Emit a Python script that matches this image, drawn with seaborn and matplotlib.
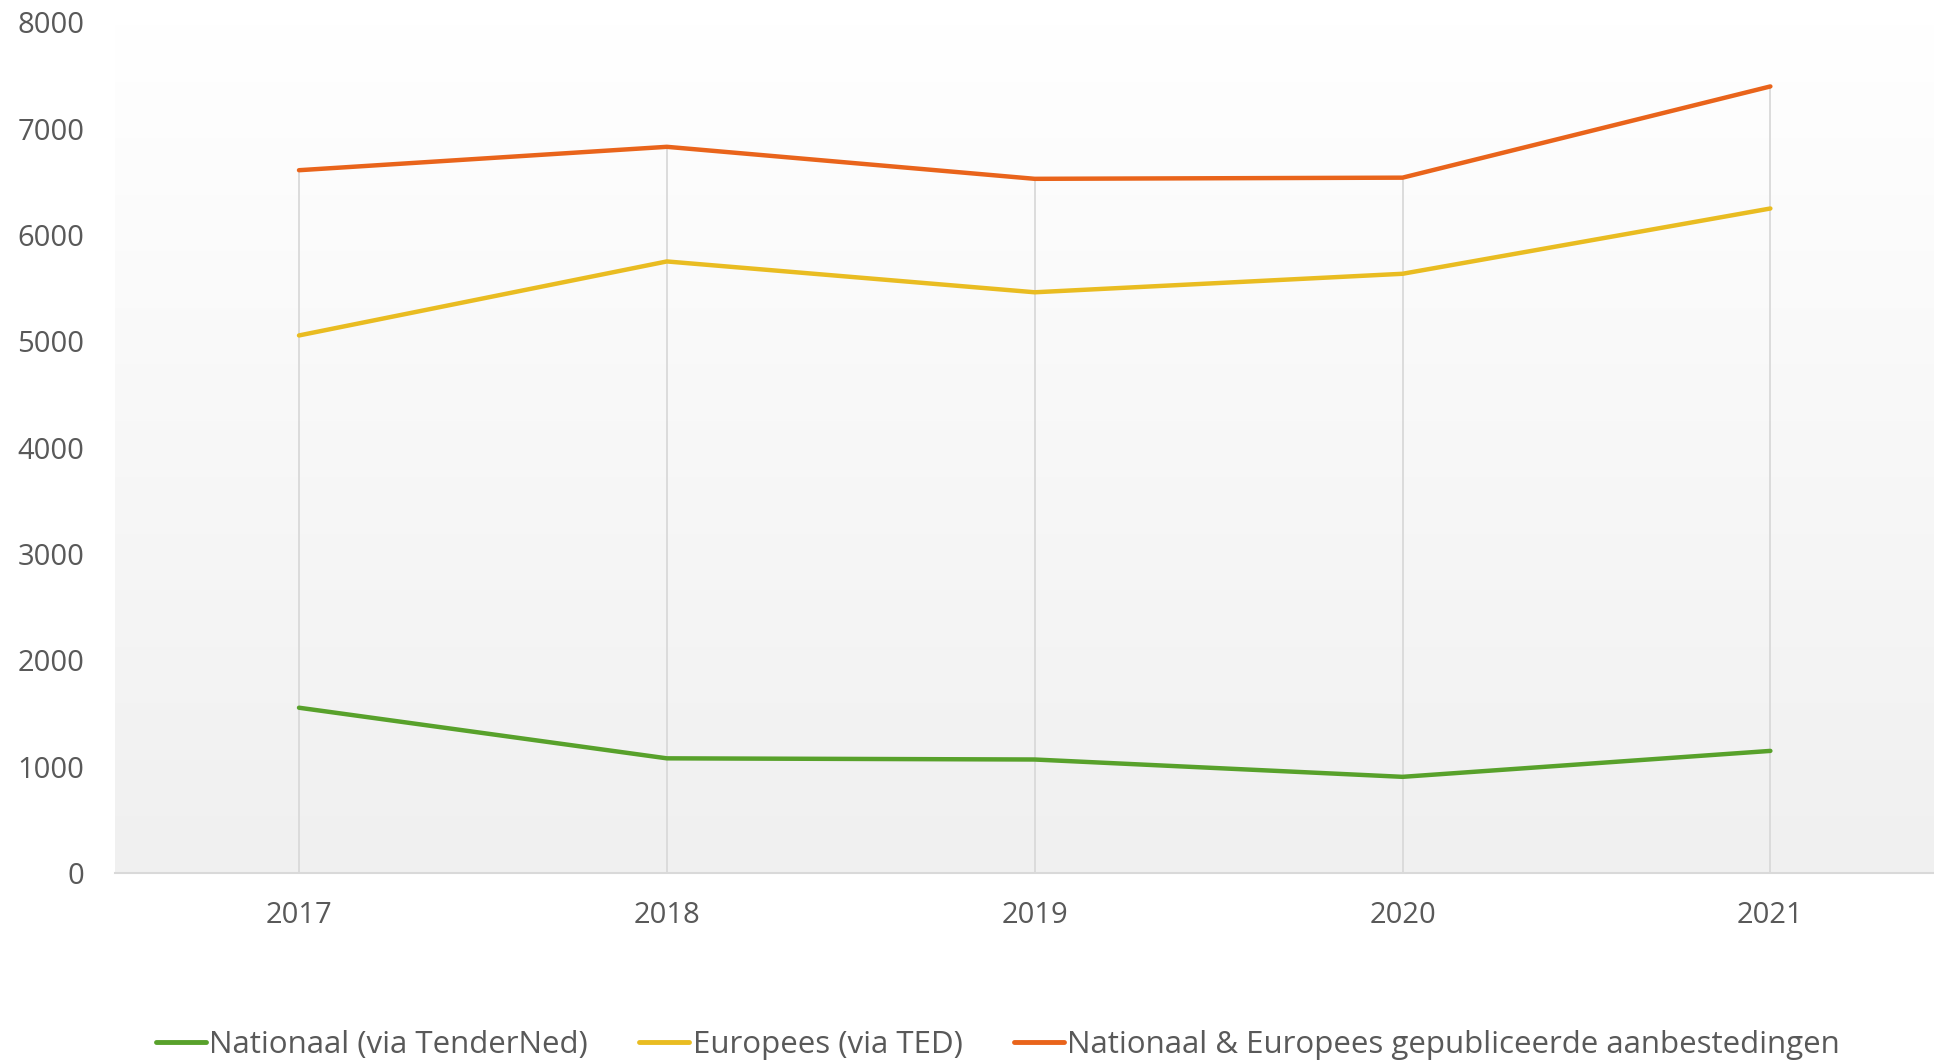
import numpy as np
import pandas as pd
import matplotlib
matplotlib.use("Agg")
import matplotlib.pyplot as plt
import seaborn as sns

# data
years = ["2017", "2018", "2019", "2020", "2021"]
nationaal = [1554, 1078, 1067, 904, 1148]
europees = [5055, 5751, 5461, 5635, 6249]
totaal = [6609, 6829, 6528, 6539, 7397]
series_names = ["Nationaal (via TenderNed)", "Europees (via TED)",
                "Nationaal & Europees gepubliceerde aanbestedingen"]
colors = ["#58a12b", "#e9bc21", "#e9641b"]

df = pd.DataFrame({
    "jaar": years * 3,
    "aantal": nationaal + europees + totaal,
    "reeks": [series_names[0]] * 5 + [series_names[1]] * 5 + [series_names[2]] * 5,
})

sns.set_theme(style="white")
plt.rcParams["font.family"] = ["Open Sans", "DejaVu Sans"]
text_col = "#595959"

fig = plt.figure(figsize=(19.34, 10.62), dpi=100)
ax = fig.add_axes([0.0595, 0.178, 0.951, 0.801])

# gradient background of the plot area
grad = np.linspace(0, 1, 256).reshape(-1, 1)
ax.imshow(grad, extent=(-0.5, 4.5, 0, 8000), aspect="auto", origin="upper",
          cmap=matplotlib.colors.LinearSegmentedColormap.from_list("bg", ["#ffffff", "#f0f0f0"]),
          zorder=0)

sns.lineplot(data=df, x="jaar", y="aantal", hue="reeks", palette=colors,
             linewidth=3.2, ax=ax, legend=False, zorder=3)

# drop lines from the highest series down to the axis
ax.vlines(range(len(years)), 0, totaal, color="#d9d9d9", linewidth=1.3, zorder=1)

ax.set_xlim(-0.5, 4.5)
ax.set_ylim(0, 8000)
ax.set_yticks(range(0, 8001, 1000))
ax.set_xlabel("")
ax.set_ylabel("")
ax.grid(False)
for s in ["top", "right", "left"]:
    ax.spines[s].set_visible(False)
ax.spines["bottom"].set_color("#d9d9d9")
ax.spines["bottom"].set_linewidth(1.5)
ax.tick_params(axis="y", length=0, pad=22, labelsize=21, labelcolor=text_col)
ax.tick_params(axis="x", length=0, pad=20, labelsize=21, labelcolor=text_col)

handles = [plt.Line2D([], [], color=c, linewidth=3.5) for c in colors]
fig.legend(handles, series_names, loc="center", bbox_to_anchor=(0.516, 0.016),
           ncol=3, frameon=False, fontsize=22.5, labelcolor=text_col,
           handlelength=1.6, handletextpad=0.1, columnspacing=1.65)

fig.savefig("out.png", dpi=100)
